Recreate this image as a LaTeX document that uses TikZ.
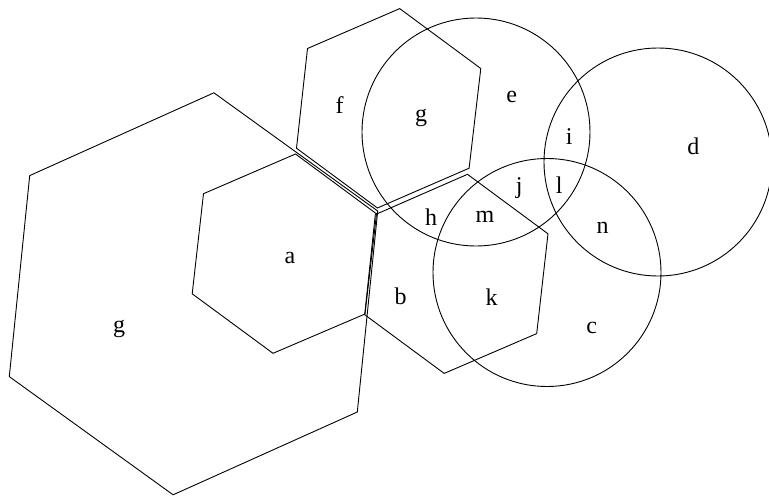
\documentclass[tikz,border=0pt]{standalone}
\usepackage{fontspec}
\setmainfont{Liberation Serif}
\begin{document}
\begin{tikzpicture}[x=1pt,y=-1pt,
  outline/.style={draw=black, line width=0.9pt, line join=miter},
  lbl/.style={inner sep=0pt, font=\fontsize{24}{24}\selectfont}]
\useasboundingbox (0,0) rectangle (769,496);
\clip (0,0) rectangle (769,496);
% big hexagon g
\draw[outline] (213.9,92.8) -- (377.7,211.0) -- (357.3,412.0) -- (173.1,494.8) -- (9.3,376.6) -- (29.7,175.6) -- cycle;
% hexagon a
\draw[outline] (295.5,154.0) -- (376.5,213.8) -- (365.0,314.0) -- (273.0,353.3) -- (192.2,293.8) -- (203.5,193.7) -- cycle;
% hexagon f (top)
\draw[outline] (399.7,8.6) -- (480.8,68.5) -- (469.1,168.2) -- (377.4,208.0) -- (296.5,148.2) -- (307.5,48.5) -- cycle;
% hexagon b
\draw[outline] (467.5,174.3) -- (548.0,233.8) -- (536.7,333.6) -- (444.2,373.4) -- (364.7,314.7) -- (375.3,214.6) -- cycle;
% circles
\draw[outline] (476,132) circle[radius=114];
\draw[outline] (658,162) circle[radius=114];
\draw[outline] (547,272.5) circle[radius=114];
% labels
\node[lbl] (lf)  at (339.5,105.5) {f};
\node[lbl] (lg1) at (421,117.5) {g};
\node[lbl] (le)  at (511.7,97.3) {e};
\node[lbl] (li)  at (569.3,136.7) {i};
\node[lbl] (ld)  at (693.3,146) {d};
\node[lbl] (lj)  at (519.3,188.3) {j};
\node[lbl] (ll)  at (559.3,185) {l};
\node[lbl] (lh)  at (431,217.3) {h};
\node[lbl] (lm)  at (485,217.3) {m};
\node[lbl] (ln)  at (602.7,227.7) {n};
\node[lbl] (la)  at (290,258.3) {a};
\node[lbl] (lb)  at (400.7,296.7) {b};
\node[lbl] (lk)  at (491.7,296.7) {k};
\node[lbl] (lc)  at (591.7,328.3) {c};
\node[lbl] (lg2) at (119,329.3) {g};
\end{tikzpicture}
\end{document}
